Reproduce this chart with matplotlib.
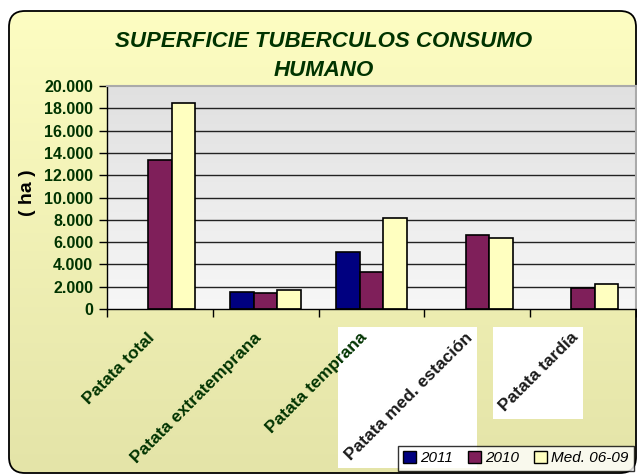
import matplotlib
matplotlib.use("Agg")
import matplotlib.pyplot as plt
import numpy as np
from matplotlib.patches import FancyBboxPatch, Patch, Rectangle
from matplotlib.colors import LinearSegmentedColormap

# data (ha)
categories = ["Patata total", "Patata extratemprana", "Patata temprana",
              "Patata med. estación", "Patata tardía"]
series_names = ["2011", "2010", "Med. 06-09"]
vals_2011 = [np.nan, 1560, 5130, np.nan, np.nan]
vals_2010 = [13330, 1470, 3300, 6600, 1860]
vals_med = [18500, 1740, 8140, 6330, 2220]
yticks = list(range(0, 20001, 2000))
ytick_labels = ["{:,}".format(v).replace(",", ".") for v in yticks]

colors = ["#000080", "#7f1f5a", "#ffffc0"]
green = "#003300"
plt.rcParams['font.family'] = ['Liberation Sans', 'DejaVu Sans']

W, H = 637, 475
fig = plt.figure(figsize=(W / 100, H / 100), dpi=100)
fig.patch.set_facecolor("white")

# background: rounded box with yellow gradient
bg = fig.add_axes([0, 0, 1, 1])
bg.set_xlim(0, W)
bg.set_ylim(0, H)
bg.axis("off")
frame = FancyBboxPatch((9, 2), 627, 462, boxstyle="round,pad=0,rounding_size=16",
                       facecolor="none", edgecolor="black", linewidth=1.3, zorder=3)
bg.add_patch(frame)
ycmap = LinearSegmentedColormap.from_list("y", ["#e4e4a8", "#fdfdc2"])
grad = np.linspace(0, 1, 256).reshape(-1, 1)
im = bg.imshow(grad, extent=(9, 636, 2, 464), origin="lower", cmap=ycmap,
               aspect="auto", zorder=1)
im.set_clip_path(frame)

# plot area
ax = fig.add_axes([107 / W, 1 - 309 / H, 529 / W, 223 / H])
x = np.arange(len(categories))
bw = 0.222
ax.set_xlim(-0.5, len(categories) - 0.5)
ax.set_ylim(0, 20000)
gcmap = LinearSegmentedColormap.from_list("g", ["#f7f7f7", "#e0e0e0"])
ax.imshow(grad, extent=(-0.5, len(categories) - 0.5, 0, 20000), origin="lower",
          cmap=gcmap, aspect="auto", zorder=0)
for v in yticks[1:-1]:
    ax.axhline(v, color="#222222", linewidth=1, zorder=1)

for k, (vals, c) in enumerate(zip([vals_2011, vals_2010, vals_med], colors)):
    vals = np.array(vals, dtype=float)
    m = ~np.isnan(vals)
    ax.bar(x[m] + (k - 1) * bw, vals[m], width=bw, color=c, edgecolor="black",
           linewidth=1.2, zorder=2)

ax.set_yticks(yticks)
ax.set_yticklabels(ytick_labels, fontsize=11.5, fontweight="bold", color=green)
ax.set_xticks(np.arange(-0.5, len(categories), 1.0))
ax.set_xticklabels([])
ax.tick_params(axis="both", direction="out", length=6, width=1, color="black")
ax.tick_params(axis="y", pad=4)
for s in ["top", "right"]:
    ax.spines[s].set_color("#aaaaaa")
    ax.spines[s].set_linewidth(1.5)
for s in ["left", "bottom"]:
    ax.spines[s].set_color("black")
    ax.spines[s].set_linewidth(1)

# category labels
lab_texts = []
for i, cat in enumerate(categories):
    col = green if i < 3 else "#1a1a1a"
    t = fig.text((107 + 105.8 * (i + 0.5) - 2) / W, 1 - 330 / H, cat, rotation=45,
                 ha="right", va="top", fontsize=12.5, fontweight="bold", color=col,
                 zorder=5)
    lab_texts.append((i, t))

fig.text(324 / W, 1 - 56 / H, "SUPERFICIE TUBERCULOS CONSUMO\nHUMANO", ha="center",
         va="center", fontsize=16, fontweight="bold", fontstyle="italic",
         color=green, linespacing=1.55)
fig.text(27 / W, 1 - 193 / H, "( ha )", rotation=90, ha="center", va="center",
         fontsize=14, fontweight="bold", color="black")

handles = [Patch(facecolor=c, edgecolor="black", linewidth=1) for c in colors]
leg = fig.legend(handles, series_names, ncol=3, loc="upper right",
                 bbox_to_anchor=(634 / W, 1 - 446 / H), frameon=True, fancybox=False,
                 prop={"style": "italic", "size": 11}, handlelength=0.8,
                 handleheight=0.8, handletextpad=0.3, columnspacing=1.0,
                 borderpad=0.35, borderaxespad=0)
leg.get_frame().set_edgecolor("black")
leg.get_frame().set_linewidth(1)
leg.set_zorder(10)

# white boxes behind the last two labels
fig.canvas.draw()
r = fig.canvas.get_renderer()
for i, t in lab_texts:
    if i >= 3:
        bb = t.get_window_extent(r)
        bg.add_patch(Rectangle((bb.x0 - 4, bb.y0 - 5), bb.width + 6, bb.height + 8,
                               facecolor="white", edgecolor="none", zorder=4))

fig.savefig("out.png", dpi=100)
